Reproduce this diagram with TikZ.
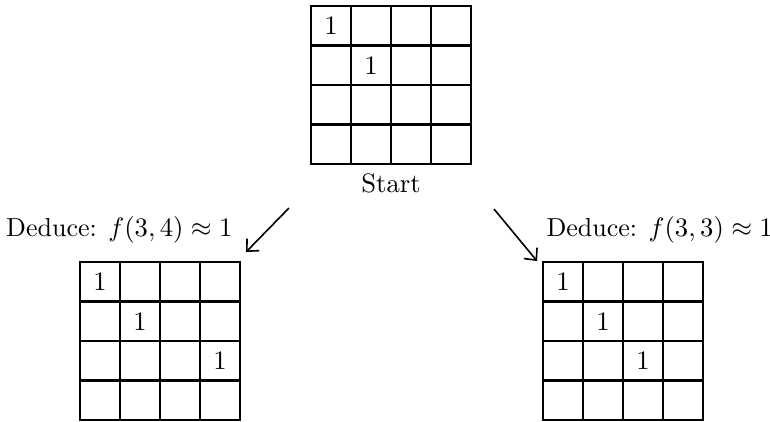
\documentclass[tikz,border=0pt]{standalone}
\usetikzlibrary{arrows.meta}
\begin{document}
\begin{tikzpicture}[x=0.375pt,y=-0.375pt,
    gridline/.style={line width=0.9pt,line cap=rect},
    arr/.style={-{Straight Barb[length=3.4pt,width=6.4pt,line width=0.6pt]},line width=0.6pt},
    cellnum/.style={inner sep=0pt},
    caption/.style={inner sep=0pt},
    deduce/.style={caption,font=\fontsize{9.75}{11.7}\selectfont}]
\useasboundingbox (0,0) rectangle (770,421);

% 4x4 board: #1,#2 = top-left corner, #3 = name of its centre
\newcommand\drawboard[3]{%
  \begin{scope}[shift={(#1,#2)}]
    \coordinate (#3) at (80,79);
    \foreach \i in {0,...,4} {
      \draw[gridline] (\i*40,0) -- (\i*40,158);
      \draw[gridline] (0,\i*39.5) -- (160,\i*39.5);
    }
  \end{scope}}

\drawboard{311}{6}{top}
\drawboard{80}{262}{left}
\drawboard{543}{262}{right}

% entries of the start board
\node[cellnum] (t1) at (331,25.75) {1};
\node[cellnum] (t2) at (371,65.25) {1};

% entries of the left board
\node[cellnum] (l1) at (100,281.75) {1};
\node[cellnum] (l2) at (140,321.25) {1};
\node[cellnum] (l3) at (220,360.75) {1};

% entries of the right board
\node[cellnum] (r1) at (563,281.75) {1};
\node[cellnum] (r2) at (603,321.25) {1};
\node[cellnum] (r3) at (643,360.75) {1};

\node[caption,anchor=base] (start) at (391,192) {Start};
\node[deduce,anchor=base east] (dl) at (233,236) {Deduce: $f(3,4)\approx 1$};
\node[deduce,anchor=base west] (dr) at (546,236) {Deduce: $f(3,3)\approx 1$};

\coordinate (la) at (289,208);
\coordinate (lb) at (246,252);
\coordinate (ra) at (494,209);
\coordinate (rb) at (537,261);
\draw[arr] (la) -- (lb);
\draw[arr] (ra) -- (rb);
\end{tikzpicture}
\end{document}
